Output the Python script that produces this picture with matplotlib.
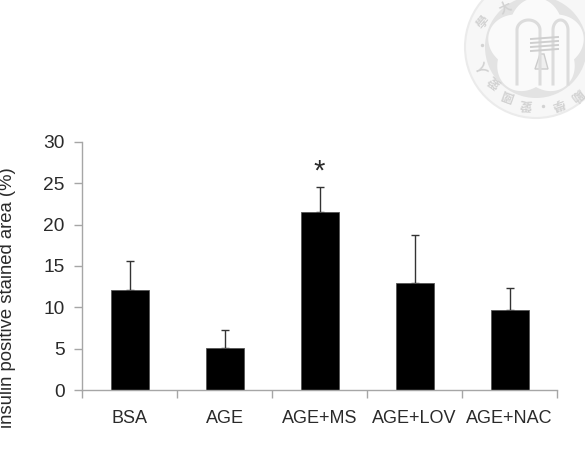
import numpy as np
import matplotlib
matplotlib.use('Agg')
from matplotlib import pyplot as plt
from matplotlib.patches import Circle, Polygon

plt.rcParams['font.family'] = ['Liberation Sans', 'DejaVu Sans']

W, H = 585, 457

# Chart values
groups = ['BSA', 'AGE', 'AGE+MS', 'AGE+LOV', 'AGE+NAC']
means = [12.1, 5.1, 21.5, 12.9, 9.65]
errors = [3.5, 2.15, 3.05, 5.9, 2.75]
y_ticks = [0, 5, 10, 15, 20, 25, 30]
star_group = 2
star_y = 26.4

# Seal text placed around the ring: character, x, y, rotation
seal_chars = ['大', '學', '人', '愛', '國', '愛', '學', '勵']
seal_x = [505, 483, 483, 495, 508, 526, 558, 577]
seal_y = [8, 22, 67, 82, 95, 104, 103, 95]
seal_rot = [25, 50, 115, 140, 160, 175, 200, 220]
seal_dot_x = [482, 543]
seal_dot_y = [45, 106]

GREY_TEXT = '#2a2a2a'
AXIS_GREY = '#a6a6a6'

fig = plt.figure(figsize=(W / 100, H / 100), dpi=100)

# Faint university seal behind everything, drawn in pixel coordinates
seal = fig.add_axes([0, 0, 1, 1], zorder=0)
seal.set_xlim(0, W)
seal.set_ylim(H, 0)
seal.axis('off')
cx, cy = 536, 47
seal.add_patch(Circle((cx, cy), 71, fc='#f7f7f7', ec='#ebebeb', lw=1.5))
seal.add_patch(Circle((cx, cy), 51, fc='#e3e3e3', ec='none'))

# Five petal outline
t = np.linspace(0, 2 * np.pi, 400)
r = 40 + 9 * np.abs(np.cos(2.5 * (t - np.pi / 2)))
seal.add_patch(Polygon(np.c_[cx + r * np.cos(t), cy - r * np.sin(t)], fc='#fafafa', ec='none'))

# Arches and bell in the middle of the flower
for x0, x1 in [(517, 540), (553, 568)]:
    xm, half = (x0 + x1) / 2, (x1 - x0) / 2
    a = np.linspace(0, np.pi, 40)
    xs = np.r_[x0, xm - half * np.cos(a), x1]
    ys = np.r_[84, 30 - 10 * np.sin(a), 84]
    seal.plot(xs, ys, color='#dcdcdc', lw=2.2)
for yy in [38, 42, 46, 50]:
    seal.plot([531, 558], [yy + 1, yy - 1], color='#cfcfcf', lw=1.4)
seal.add_patch(Polygon([[540, 54], [544, 54], [548, 69], [535, 69]], fc='#efefef', ec='#cccccc', lw=1))

for ch, x, y, rot in zip(seal_chars, seal_x, seal_y, seal_rot):
    seal.text(x, y, ch, fontsize=9, color='#d2d2d2', rotation=rot, ha='center', va='center',
              family=['Noto Sans CJK TC', 'DejaVu Sans'], fontweight='bold')
seal.scatter(seal_dot_x, seal_dot_y, s=6, color='#d2d2d2', linewidths=0)

# Bar chart
left, right, top, bottom = 82, 557, 141.7, 390.3
ax = fig.add_axes([left / W, 1 - bottom / H, (right - left) / W, (bottom - top) / H], zorder=1)
ax.patch.set_alpha(0)
x = np.arange(len(groups))
ax.bar(x, means, width=0.4, color='black', edgecolor='#555555', linewidth=0.6, zorder=2)
ax.errorbar(x, means, yerr=[np.zeros(len(means)), errors], fmt='none', ecolor='#333333',
            elinewidth=1.0, capsize=3, capthick=1.0, zorder=1)
ax.text(star_group, star_y, '*', fontsize=21, color=GREY_TEXT, ha='center', va='center')

ax.set_xlim(-0.5, len(groups) - 0.5)
ax.set_ylim(0, 30)
ax.set_yticks(y_ticks)
ax.set_xticks(np.arange(len(groups) + 1) - 0.5)
ax.set_xticklabels([])
for i, name in enumerate(groups):
    ax.text(i, -3.45, name, fontsize=13, color=GREY_TEXT, ha='center', va='center')

for side in ['top', 'right']:
    ax.spines[side].set_visible(False)
for side in ['left', 'bottom']:
    ax.spines[side].set_color(AXIS_GREY)
    ax.spines[side].set_linewidth(1.0)
ax.tick_params(axis='y', length=6, width=1.0, color=AXIS_GREY, labelcolor=GREY_TEXT, labelsize=13.8, pad=6.5)
ax.tick_params(axis='x', length=6, width=1.0, color=AXIS_GREY)

fig.text(8 / W, 1 - 298 / H, 'insulin positive stained area (%)', rotation=90, fontsize=13.3,
         color=GREY_TEXT, ha='center', va='center')

fig.savefig('out.png', dpi=100)
